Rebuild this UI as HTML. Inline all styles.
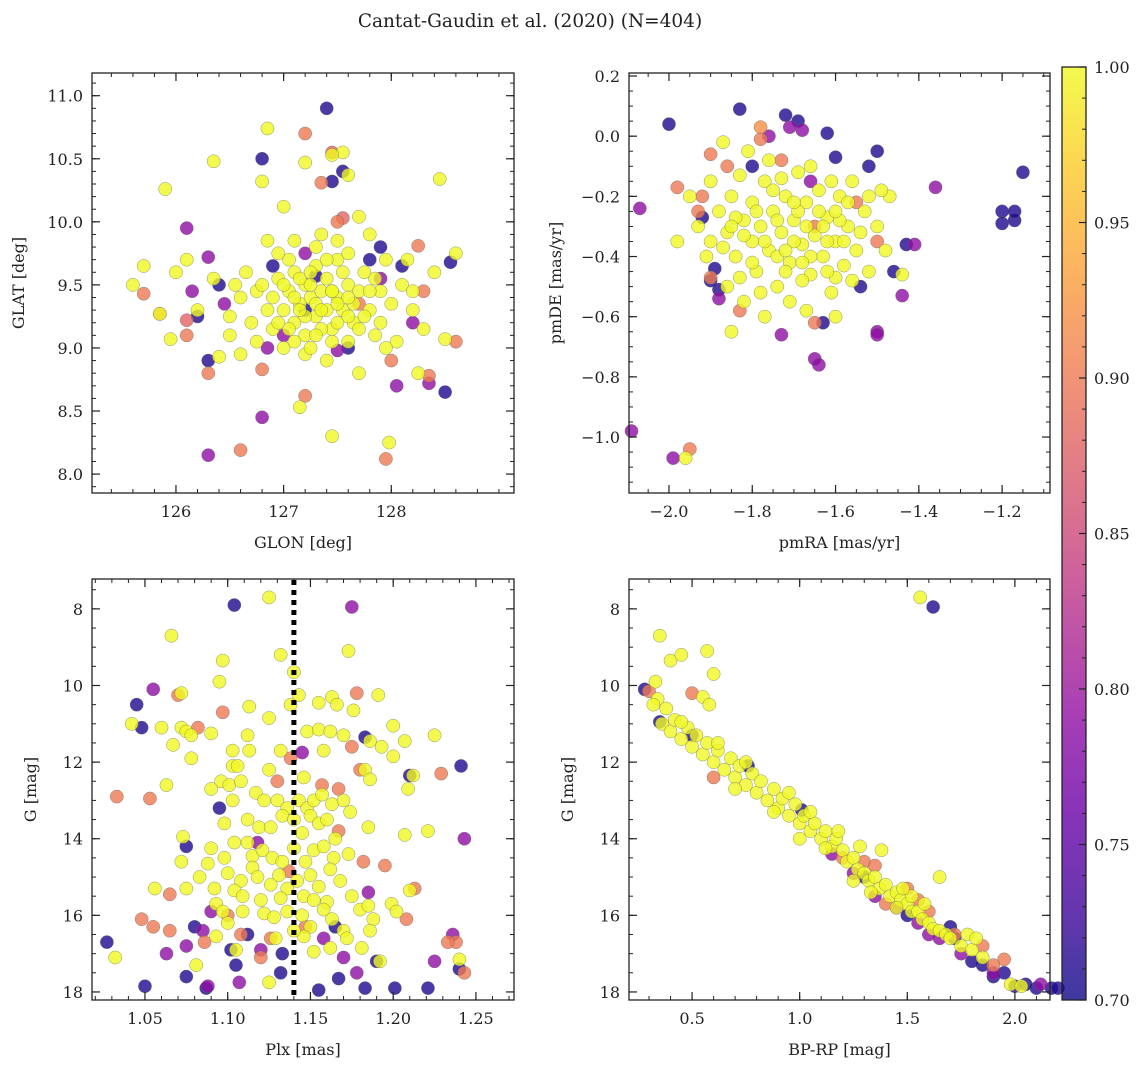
<!DOCTYPE html>
<html><head><meta charset="utf-8"><style>
body{margin:0;background:#fff;width:1148px;height:1067px;overflow:hidden}
svg text{font-family:"DejaVu Serif","Liberation Serif",serif;fill:#222}
</style></head><body>
<svg id="fig" width="1148" height="1067" xmlns="http://www.w3.org/2000/svg">
<defs><linearGradient id="plasma" x1="0" y1="1" x2="0" y2="0">
<stop offset="0" stop-color="#0d0887"/><stop offset="0.1" stop-color="#41049d"/><stop offset="0.2" stop-color="#6a00a8"/><stop offset="0.3" stop-color="#8f0da4"/><stop offset="0.4" stop-color="#b12a90"/><stop offset="0.5" stop-color="#cc4778"/><stop offset="0.6" stop-color="#e16462"/><stop offset="0.7" stop-color="#f2844b"/><stop offset="0.8" stop-color="#fca636"/><stop offset="0.9" stop-color="#fcce25"/><stop offset="1" stop-color="#f0f921"/>
</linearGradient></defs>
<text x="530" y="27" font-size="18.5" text-anchor="middle">Cantat-Gaudin et al. (2020) (N=404)</text>
</svg>
<script>
// ---- data ----
const glonGlat = [
[127.4,10.9,0.71],[126.8,10.5,0.71],[127.45,10.32,0.71],[127.55,10.4,0.71],[126.4,9.5,0.71],[126.3,8.9,0.71],[128.5,8.65,0.71],[128.55,9.68,0.71],[126.2,9.25,0.71],[128.1,9.65,0.71],[127.8,9.7,0.71],[127.9,9.8,0.71],[127.3,9.57,0.71],[127.6,9.0,0.71],[126.9,9.65,0.71],[127.2,9.3,0.71],
[126.1,9.95,0.79],[126.3,9.72,0.79],[126.15,9.45,0.79],[126.45,9.35,0.79],[126.3,8.15,0.79],[126.8,8.45,0.79],[126.85,9.0,0.79],[128.35,8.72,0.79],[128.05,8.7,0.79],[127.5,8.98,0.79],[128.2,9.2,0.79],[127.2,9.75,0.79],[127.9,9.55,0.79],[127.0,9.1,0.79],
[125.7,9.43,0.9],[125.85,9.27,0.9],[126.1,9.1,0.9],[126.1,9.22,0.88],[126.3,8.8,0.9],[126.6,8.19,0.9],[127.2,10.7,0.9],[127.35,10.31,0.9],[127.45,10.55,0.88],[127.95,8.12,0.9],[128.35,8.78,0.9],[128.6,9.05,0.9],[128.0,8.9,0.9],[128.25,9.81,0.9],[128.3,9.45,0.9],[127.5,10.0,0.9],[127.55,10.03,0.88],[127.7,9.35,0.9],[127.2,8.62,0.9],[126.8,8.83,0.9],
[125.6,9.5,1],[125.7,9.65,1],[125.9,10.26,1],[125.85,9.27,1],[125.95,9.07,1],[126.0,9.6,1],[126.1,9.7,1],[126.35,10.48,1],[126.35,9.55,1],[126.5,9.25,1],[126.8,10.32,1],[126.85,10.74,1],[127.0,10.12,1],[127.2,10.47,1],[127.55,10.55,1],[127.45,10.53,1],[127.6,10.37,1],[127.7,10.04,1],[128.45,10.34,1],[128.6,9.75,1],[128.5,9.07,1],[127.45,8.3,1],[127.98,8.25,1],[127.15,8.53,1],[126.6,8.95,1],[126.4,8.93,1],[126.2,9.3,1],[128.25,8.8,1],
[126.75,9.45,1],[126.8,9.5,1],[126.9,9.4,1],[126.95,9.55,1],[127.0,9.3,1],[127.05,9.45,1],[127.1,9.2,1],[127.1,9.6,1],[127.15,9.35,1],[127.2,9.5,1],[127.2,9.1,1],[127.25,9.4,1],[127.3,9.25,1],[127.3,9.65,1],[127.35,9.45,1],[127.4,9.3,1],[127.4,9.55,1],[127.45,9.15,1],[127.5,9.4,1],[127.5,9.7,1],[127.55,9.3,1],[127.6,9.5,1],[127.65,9.2,1],[127.7,9.45,1],[127.75,9.6,1],[127.8,9.3,1],[127.85,9.1,1],[127.9,9.45,1],[128.0,9.35,1],[128.1,9.5,1],[127.0,9.0,1],[126.9,9.15,1],[127.2,8.95,1],[127.4,8.9,1],[127.6,9.05,1],[127.7,8.8,1],[127.3,9.8,1],[127.1,9.85,1],[127.5,9.85,1],[127.8,9.9,1],[126.6,9.4,1],[126.7,9.2,1],[126.65,9.6,1],[128.2,9.3,1],[128.3,9.15,1],[128.15,9.7,1],[127.05,9.7,1],[127.25,9.0,1],[127.35,9.15,1],[127.55,9.6,1],[127.65,9.35,1],[127.9,9.2,1],[128.05,9.05,1],[126.85,9.3,1],[127.15,9.55,1],[127.45,9.45,1],[127.75,9.25,1],[127.6,9.75,1],[126.95,9.75,1],[127.35,9.9,1],[127.0,9.5,1],[127.25,9.6,1],[127.5,9.2,1],[127.85,9.55,1],[128.4,9.6,1],[126.5,9.1,1],[126.75,9.05,1],[127.95,9.7,1],[127.2,9.25,1],[127.4,9.7,1],[126.55,9.5,1],[127.1,9.4,1],[127.3,9.35,1],[127.6,9.25,1],[127.8,9.45,1],[127.05,9.15,1],[127.45,9.45,1],[127.95,9.0,1],[128.2,9.45,1],[126.85,9.85,1],
[127.15,9.3,1],[127.25,9.5,1],[127.35,9.3,1],[127.5,9.35,1],[127.6,9.4,1],[127.1,9.05,1],[127.3,9.1,1],[127.45,9.05,1],[126.95,9.2,1],[127.7,9.15,1]
];
const pmraPmde = [
[-2.0,0.04,0.71],[-1.83,0.09,0.71],[-1.72,0.07,0.71],[-1.69,0.05,0.71],[-1.62,0.01,0.71],[-1.5,-0.05,0.71],[-1.6,-0.07,0.71],[-1.52,-0.1,0.71],[-1.2,-0.25,0.71],[-1.2,-0.29,0.71],[-1.17,-0.28,0.71],[-1.17,-0.25,0.71],[-1.15,-0.12,0.71],[-1.43,-0.36,0.71],[-1.54,-0.5,0.71],[-1.89,-0.44,0.71],[-1.9,-0.48,0.71],[-1.88,-0.51,0.71],[-1.92,-0.27,0.71],[-1.46,-0.45,0.71],[-1.8,-0.1,0.71],[-1.63,-0.62,0.71],
[-2.07,-0.24,0.79],[-2.09,-0.98,0.79],[-1.99,-1.07,0.79],[-1.36,-0.17,0.79],[-1.41,-0.36,0.79],[-1.44,-0.53,0.79],[-1.65,-0.74,0.79],[-1.64,-0.76,0.79],[-1.5,-0.65,0.79],[-1.5,-0.66,0.79],[-1.73,-0.66,0.79],[-1.76,0.0,0.79],[-1.71,0.03,0.79],[-1.68,0.02,0.79],[-1.88,-0.54,0.79],[-1.66,-0.15,0.79],
[-1.95,-1.04,0.9],[-1.93,-0.25,0.9],[-1.92,-0.2,0.9],[-1.9,-0.06,0.9],[-1.9,-0.47,0.9],[-1.83,-0.58,0.9],[-1.65,-0.62,0.9],[-1.78,0.03,0.92],[-1.78,-0.01,0.9],[-1.5,-0.35,0.9],[-1.55,-0.22,0.9],[-1.65,-0.3,0.9],[-1.73,-0.08,0.9],[-1.86,-0.1,0.9],[-1.98,-0.17,0.9],
[-1.96,-1.07,1],[-1.87,-0.02,1],[-1.85,-0.65,1],[-1.77,-0.6,1],[-1.67,-0.58,1],[-1.6,-0.6,1],[-1.44,-0.46,1],[-1.47,-0.2,1],[-1.49,-0.18,1],[-1.82,-0.55,1],[-1.9,-0.35,1],[-1.95,-0.2,1],[-1.98,-0.35,1],[-1.6,-0.47,1],
[-1.9,-0.15,1],[-1.88,-0.25,1],[-1.86,-0.32,1],[-1.85,-0.2,1],[-1.84,-0.4,1],[-1.83,-0.13,1],[-1.82,-0.28,1],[-1.8,-0.35,1],[-1.8,-0.22,1],[-1.79,-0.45,1],[-1.78,-0.3,1],[-1.77,-0.15,1],[-1.76,-0.38,1],[-1.75,-0.25,1],[-1.74,-0.5,1],[-1.73,-0.32,1],[-1.72,-0.2,1],[-1.71,-0.42,1],[-1.7,-0.28,1],[-1.69,-0.12,1],[-1.68,-0.36,1],[-1.67,-0.22,1],[-1.66,-0.46,1],[-1.65,-0.33,1],[-1.64,-0.18,1],[-1.63,-0.4,1],[-1.62,-0.27,1],[-1.61,-0.52,1],[-1.6,-0.35,1],[-1.59,-0.2,1],[-1.58,-0.43,1],[-1.57,-0.3,1],[-1.56,-0.15,1],[-1.55,-0.38,1],[-1.53,-0.25,1],[-1.52,-0.45,1],[-1.5,-0.3,1],[-1.48,-0.38,1],[-1.87,-0.37,1],[-1.83,-0.47,1],[-1.81,-0.05,1],[-1.76,-0.08,1],[-1.74,-0.4,1],[-1.71,-0.55,1],[-1.69,-0.25,1],[-1.66,-0.1,1],[-1.63,-0.3,1],[-1.61,-0.15,1],[-1.58,-0.35,1],[-1.56,-0.48,1],[-1.54,-0.32,1],[-1.72,-0.45,1],[-1.78,-0.52,1],[-1.84,-0.27,1],[-1.91,-0.4,1],[-1.93,-0.3,1],[-1.66,-0.4,1],[-1.62,-0.45,1],[-1.75,-0.18,1],[-1.7,-0.35,1],[-1.8,-0.42,1],[-1.64,-0.25,1],[-1.59,-0.28,1],[-1.52,-0.2,1],[-1.86,-0.5,1],[-1.73,-0.14,1],[-1.68,-0.48,1],
[-1.79,-0.25,1],[-1.74,-0.28,1],[-1.7,-0.22,1],[-1.67,-0.3,1],[-1.62,-0.35,1],[-1.77,-0.35,1],[-1.72,-0.38,1],[-1.68,-0.42,1],[-1.82,-0.33,1],[-1.6,-0.25,1],[-1.57,-0.22,1],[-1.85,-0.3,1]
];
const plxG = [
[1.104,7.9,0.71],[1.045,10.5,0.71],[1.048,11.1,0.71],[1.027,16.7,0.71],[1.05,17.85,0.71],[1.095,13.2,0.71],[1.075,14.2,0.71],[1.08,16.3,0.71],[1.075,17.6,0.71],[1.087,17.9,0.71],[1.105,17.3,0.71],[1.112,16.5,0.71],[1.133,17.0,0.71],[1.132,17.5,0.71],[1.155,17.95,0.71],[1.167,17.65,0.71],[1.19,17.2,0.71],[1.201,17.9,0.71],[1.221,17.9,0.71],[1.21,12.35,0.71],[1.183,11.35,0.71],[1.241,12.1,0.71],[1.165,16.3,0.71],[1.102,16.9,0.71],[1.183,17.9,0.71],[1.24,17.4,0.71],
[1.055,10.1,0.79],[1.175,7.95,0.79],[1.075,16.8,0.79],[1.107,17.75,0.79],[1.088,17.85,0.79],[1.118,14.1,0.79],[1.243,14.0,0.79],[1.185,15.4,0.79],[1.158,16.6,0.79],[1.12,16.9,0.79],[1.063,17.0,0.79],[1.17,17.1,0.79],[1.225,17.2,0.79],[1.236,16.5,0.79],[1.085,16.4,0.79],[1.09,15.9,0.79],[1.178,17.5,0.79],[1.145,11.75,0.79],
[1.033,12.9,0.9],[1.053,12.95,0.9],[1.048,16.1,0.9],[1.055,16.3,0.9],[1.065,15.45,0.9],[1.07,10.25,0.9],[1.097,10.7,0.9],[1.178,10.2,0.9],[1.175,11.6,0.9],[1.229,12.3,0.9],[1.213,15.3,0.9],[1.238,16.7,0.9],[1.243,17.5,0.9],[1.195,14.7,0.9],[1.167,13.8,0.9],[1.182,14.6,0.9],[1.147,16.3,0.9],[1.126,16.6,0.9],[1.108,16.5,0.9],[1.1,16.0,0.9],[1.13,12.5,0.9],[1.167,12.7,0.9],[1.137,14.85,0.9],[1.208,16.1,0.9],[1.18,12.2,0.9],[1.065,16.4,0.9],[1.086,16.7,0.9],[1.082,11.1,0.9],[1.138,11.9,0.9],[1.157,12.6,0.9],[1.12,17.1,0.9],[1.233,16.7,0.9],
[1.125,7.7,1],[1.066,8.7,1],[1.173,9.1,1],[1.132,9.2,1],[1.097,9.35,1],[1.14,9.65,1],[1.095,9.9,1],[1.072,10.2,1],[1.143,10.25,1],[1.191,10.25,1],[1.163,10.3,1],[1.155,10.45,1],[1.166,10.5,1],[1.113,10.55,1],[1.176,10.65,1],[1.125,10.85,1],[1.042,11.0,1],[1.06,11.1,1],[1.072,11.1,1],[1.075,11.2,1],[1.078,11.3,1],[1.09,11.25,1],[1.2,11.05,1],[1.225,11.3,1],[1.148,11.2,1],[1.155,11.15,1],[1.162,11.2,1],[1.17,11.3,1],[1.186,11.45,1],[1.193,11.6,1],[1.207,11.45,1],[1.067,11.55,1],[1.078,11.9,1],[1.112,11.3,1],[1.103,11.7,1],[1.113,11.7,1],[1.132,11.7,1],[1.158,11.7,1],[1.2,11.85,1],[1.103,12.1,1],[1.106,12.1,1],[1.125,12.2,1],[1.146,12.4,1],[1.183,12.2,1],[1.186,12.45,1],[1.212,12.35,1],[1.209,12.7,1],[1.063,12.6,1],[1.096,12.5,1],[1.101,12.6,1],[1.108,12.5,1],[1.09,12.7,1],[1.117,12.8,1],[1.122,13.0,1],[1.13,13.0,1],[1.136,13.2,1],[1.143,13.0,1],[1.148,13.2,1],[1.152,13.0,1],[1.157,12.85,1],[1.163,13.1,1],[1.17,13.0,1],[1.174,13.3,1],[1.098,13.6,1],[1.103,13.0,1],[1.112,13.5,1],[1.119,13.7,1],[1.126,13.7,1],[1.133,13.4,1],[1.14,13.5,1],[1.145,13.85,1],[1.15,13.4,1],[1.155,13.6,1],[1.16,13.5,1],[1.165,14.0,1],[1.185,13.7,1],[1.207,13.9,1],[1.221,13.8,1],[1.073,13.95,1],[1.072,14.6,1],[1.09,14.25,1],[1.098,14.5,1],[1.104,14.1,1],[1.112,14.1,1],[1.115,14.45,1],[1.121,14.3,1],[1.127,14.5,1],[1.133,14.6,1],[1.14,14.25,1],[1.147,14.6,1],[1.152,14.3,1],[1.158,14.2,1],[1.164,14.5,1],[1.173,14.4,1],[1.088,14.65,1],[1.1,14.9,1],[1.108,15.1,1],[1.115,14.75,1],[1.118,15.0,1],[1.126,15.2,1],[1.131,14.95,1],[1.136,15.3,1],[1.142,15.1,1],[1.15,14.95,1],[1.155,15.25,1],[1.162,14.8,1],[1.168,15.1,1],[1.083,15.0,1],[1.075,15.3,1],[1.056,15.3,1],[1.092,15.3,1],[1.104,15.35,1],[1.109,15.5,1],[1.12,15.6,1],[1.132,15.55,1],[1.146,15.5,1],[1.152,15.6,1],[1.16,15.65,1],[1.175,15.5,1],[1.21,15.35,1],[1.093,15.7,1],[1.097,15.9,1],[1.109,15.9,1],[1.122,15.95,1],[1.136,15.9,1],[1.145,16.0,1],[1.158,15.85,1],[1.163,16.1,1],[1.18,15.85,1],[1.185,15.75,1],[1.199,15.7,1],[1.202,15.9,1],[1.1,16.2,1],[1.128,16.05,1],[1.15,16.3,1],[1.17,16.4,1],[1.188,16.1,1],[1.186,16.4,1],[1.146,16.55,1],[1.129,16.6,1],[1.152,16.95,1],[1.162,16.85,1],[1.093,16.55,1],[1.105,16.9,1],[1.172,16.6,1],[1.181,16.85,1],[1.032,17.1,1],[1.081,17.3,1],[1.125,17.75,1],[1.192,17.2,1],[1.24,17.15,1],[1.14,16.4,1],[1.138,10.5,1]
];
const bprpG = [
[0.28,10.1,0.71],[0.35,10.95,0.71],[0.5,11.3,0.71],[0.76,12.1,0.71],[1.01,13.25,0.71],[1.62,7.95,0.71],[1.7,16.3,0.71],[1.72,16.6,0.71],[1.85,17.3,0.71],[1.9,17.6,0.71],[2.0,17.85,0.71],[2.1,17.9,0.71],[2.17,17.9,0.71],[2.2,17.9,0.71],[2.05,17.8,0.71],[1.5,16.0,0.71],[1.8,17.2,0.71],[1.95,17.5,0.71],[1.3,15.0,0.71],
[1.35,15.5,0.79],[1.55,16.2,0.79],[1.65,16.6,0.79],[1.75,17.0,0.79],[1.9,17.5,0.79],[2.12,17.8,0.79],[1.25,14.9,0.79],[1.45,15.8,0.79],[1.6,16.5,0.79],[1.15,14.4,0.79],
[0.3,10.15,0.9],[0.5,10.2,0.9],[0.6,12.4,0.9],[1.3,14.6,0.9],[1.5,15.3,0.9],[1.6,15.9,0.9],[1.85,16.8,0.9],[1.95,17.15,0.9],[1.4,15.7,0.9],[1.72,16.5,0.9],[1.2,14.5,0.9],[1.35,14.7,0.9],[1.9,17.3,0.9],[1.55,15.6,0.9],
[0.35,8.7,1],[0.4,9.35,1],[0.45,9.2,1],[0.33,9.9,1],[0.57,9.1,1],[0.6,9.7,1],[1.56,7.7,1],[0.34,10.35,1],[0.38,10.6,1],[0.32,10.5,1],[0.55,10.3,1],[0.58,10.5,1],[0.36,11.0,1],[0.4,11.2,1],[0.42,10.9,1],[0.45,11.4,1],[0.48,11.1,1],[0.5,11.6,1],[0.52,11.3,1],[0.55,11.8,1],[0.57,11.5,1],[0.6,12.0,1],[0.62,11.7,1],[0.65,12.2,1],[0.68,11.9,1],[0.7,12.4,1],[0.72,12.1,1],[0.75,12.6,1],[0.78,12.3,1],[0.8,12.8,1],[0.82,12.5,1],[0.85,13.0,1],[0.88,12.7,1],[0.9,13.2,1],[0.92,12.95,1],[0.95,13.4,1],[0.98,13.1,1],[1.0,13.6,1],[1.02,13.4,1],[1.05,13.8,1],[1.07,13.6,1],[1.1,14.0,1],[1.12,13.8,1],[1.15,14.2,1],[1.17,14.0,1],[1.2,14.3,1],[1.22,14.6,1],[1.25,14.5,1],[1.27,14.8,1],[1.3,14.9,1],[1.32,15.1,1],[1.35,15.0,1],[1.37,15.3,1],[1.4,15.2,1],[1.42,15.5,1],[1.45,15.4,1],[1.47,15.6,1],[1.5,15.7,1],[1.52,15.9,1],[1.55,15.9,1],[1.57,16.1,1],[1.6,16.2,1],[1.62,16.35,1],[1.65,16.4,1],[1.68,16.5,1],[1.7,16.6,1],[1.75,16.8,1],[1.8,16.9,1],[1.85,17.1,1],[1.65,15.0,1],[1.78,16.5,1],[1.82,16.6,1],[1.98,17.8,1],[2.03,17.85,1],[1.52,15.5,1],[1.45,15.8,1],[1.38,14.3,1],[1.28,14.2,1],[1.18,13.8,1],[1.05,13.3,1],[0.95,12.8,1],[0.75,12.0,1],[0.62,11.5,1],[0.45,10.95,1],[1.48,15.3,1],[1.58,15.7,1],[1.33,15.4,1],[1.12,14.25,1],[0.88,13.3,1],[1.0,14.0,1],[1.25,15.1,1],[0.7,12.7,1]
];
const panel1XTicks = [126,127,128], panel1YTicks = [8.0,8.5,9.0,9.5,10.0,10.5,11.0];
const panel2XTicks = [-2.0,-1.8,-1.6,-1.4,-1.2], panel2YTicks = [-1.0,-0.8,-0.6,-0.4,-0.2,0.0,0.2];
const panel3XTicks = [1.05,1.10,1.15,1.20,1.25], magTicks = [8,10,12,14,16,18];
const panel4XTicks = [0.5,1.0,1.5,2.0];
const cbarTicks = [0.70,0.75,0.80,0.85,0.90,0.95,1.00];
const plxCut = 1.14;

const NS='http://www.w3.org/2000/svg', svg=document.getElementById('fig');
const plasma=['#0d0887','#41049d','#6a00a8','#8f0da4','#b12a90','#cc4778','#e16462','#f2844b','#fca636','#fcce25','#f0f921'];
function hex(h){return [1,3,5].map(i=>parseInt(h.substr(i,2),16));}
function cmap(v){let t=Math.max(0,Math.min(1,(v-0.7)/0.3))*10;let i=Math.min(9,Math.floor(t)),f=t-i;const a=hex(plasma[i]),b=hex(plasma[i+1]);return 'rgb('+a.map((x,k)=>Math.round(x+(b[k]-x)*f)).join(',')+')';}
function el(tag,at,parent){const e=document.createElementNS(NS,tag);for(const k in at)e.setAttribute(k,at[k]);(parent||svg).appendChild(e);return e;}
function fmt(v,d){return (v<0?'\u2212':'')+Math.abs(v).toFixed(d);}
function panel(name,box,xd,yd,xt,yt,xdec,ydec,xminor,yminor,xlabel,ylabel,data){
  const g=el('g',{});
  
  
  const sx=v=>box.x0+(v-xd[0])/(xd[1]-xd[0])*(box.x1-box.x0);
  const sy=v=>box.y1-(v-yd[0])/(yd[1]-yd[0])*(box.y1-box.y0);
  const pts=el('g',{},g);
  
  
  const sorted=data.slice().sort((a,b)=>a[2]-b[2]);
  sorted.forEach(d=>{const c=el('circle',{cx:sx(d[0]),cy:sy(d[1]),r:6.6,fill:cmap(d[2]),'fill-opacity':0.8,stroke:'#666','stroke-width':0.5,'stroke-opacity':0.7},pts);
    
    });
  const fr=el('rect',{x:box.x0,y:box.y0,width:box.x1-box.x0,height:box.y1-box.y0,fill:'none',stroke:'#222','stroke-width':1.3},g);
  
  
  const lo=Math.min(xd[0],xd[1]),hi=Math.max(xd[0],xd[1]);
  for(let v=Math.ceil(lo/xminor)*xminor;v<=hi;v+=xminor){const X=sx(v);el('line',{x1:X,x2:X,y1:box.y1,y2:box.y1-4,stroke:'#222'},g);el('line',{x1:X,x2:X,y1:box.y0,y2:box.y0+4,stroke:'#222'},g);}
  const ylo=Math.min(yd[0],yd[1]),yhi=Math.max(yd[0],yd[1]);
  for(let v=Math.ceil(ylo/yminor)*yminor;v<=yhi;v+=yminor){const Y=sy(v);el('line',{x1:box.x0,x2:box.x0+4,y1:Y,y2:Y,stroke:'#222'},g);el('line',{x1:box.x1,x2:box.x1-4,y1:Y,y2:Y,stroke:'#222'},g);}
  xt.forEach(v=>{const X=sx(v);el('line',{x1:X,x2:X,y1:box.y1,y2:box.y1-8,stroke:'#222','stroke-width':1.2},g);el('line',{x1:X,x2:X,y1:box.y0,y2:box.y0+8,stroke:'#222','stroke-width':1.2},g);
    const t=el('text',{x:X,y:box.y1+24,'font-size':16,'text-anchor':'middle'},g);t.textContent=fmt(v,xdec);
    
    });
  yt.forEach(v=>{const Y=sy(v);el('line',{x1:box.x0,x2:box.x0+8,y1:Y,y2:Y,stroke:'#222','stroke-width':1.2},g);el('line',{x1:box.x1,x2:box.x1-8,y1:Y,y2:Y,stroke:'#222','stroke-width':1.2},g);
    const t=el('text',{x:box.x0-9,y:Y+6,'font-size':16,'text-anchor':'end'},g);t.textContent=fmt(v,ydec);
    
    });
  const xl=el('text',{x:(box.x0+box.x1)/2,y:box.y1+55,'font-size':16,'text-anchor':'middle'},g);xl.textContent=xlabel;
  
  
  const yx=box.x0-(ydec>0?68:56),yy=(box.y0+box.y1)/2;
  const yl=el('text',{x:yx,y:yy,'font-size':16,'text-anchor':'middle',transform:'rotate(-90 '+yx+' '+yy+')'},g);yl.textContent=ylabel;
  
  
  return {sx,sy,g};
}
panel('glon-glat-panel',{x0:92,x1:514,y0:73,y1:493},[125.22,129.14],[7.85,11.18],panel1XTicks,panel1YTicks,0,1,0.2,0.1,'GLON [deg]','GLAT [deg]',glonGlat);
panel('proper-motion-panel',{x0:629,x1:1050,y0:73,y1:493},[-2.096,-1.085],[-1.186,0.21],panel2XTicks,panel2YTicks,1,1,0.05,0.05,'pmRA [mas/yr]','pmDE [mas/yr]',pmraPmde);
const p3=panel('parallax-mag-panel',{x0:92,x1:514,y0:579,y1:1000},[1.018,1.273],[18.21,7.22],panel3XTicks,magTicks,2,0,0.01,0.5,'Plx [mas]','G [mag]',plxG);
const cut=el('line',{x1:p3.sx(plxCut),x2:p3.sx(plxCut),y1:580,y2:999,stroke:'#000','stroke-width':5,'stroke-dasharray':'5 5'},p3.g);


panel('cmd-panel',{x0:629,x1:1050,y0:579,y1:1000},[0.207,2.163],[18.21,7.22],panel4XTicks,magTicks,1,0,0.1,0.5,'BP-RP [mag]','G [mag]',bprpG);
// colorbar
const cb=el('g',{});


el('rect',{x:1062,y:67,width:24,height:933,fill:'url(#plasma)','fill-opacity':0.8},cb);
el('rect',{x:1062,y:67,width:24,height:933,fill:'none',stroke:'#222','stroke-width':1.3},cb);
const cy=v=>1000-(v-0.7)/0.3*933;
for(let v=0.70;v<=1.0001;v+=0.01){el('line',{x1:1086,x2:1082,y1:cy(v),y2:cy(v),stroke:'#222'},cb);}
cbarTicks.forEach(v=>{el('line',{x1:1086,x2:1079,y1:cy(v),y2:cy(v),stroke:'#222','stroke-width':1.2},cb);
  const t=el('text',{x:1094,y:cy(v)+6,'font-size':16},cb);t.textContent=v.toFixed(2);
  
  });
</script>
</body></html>
